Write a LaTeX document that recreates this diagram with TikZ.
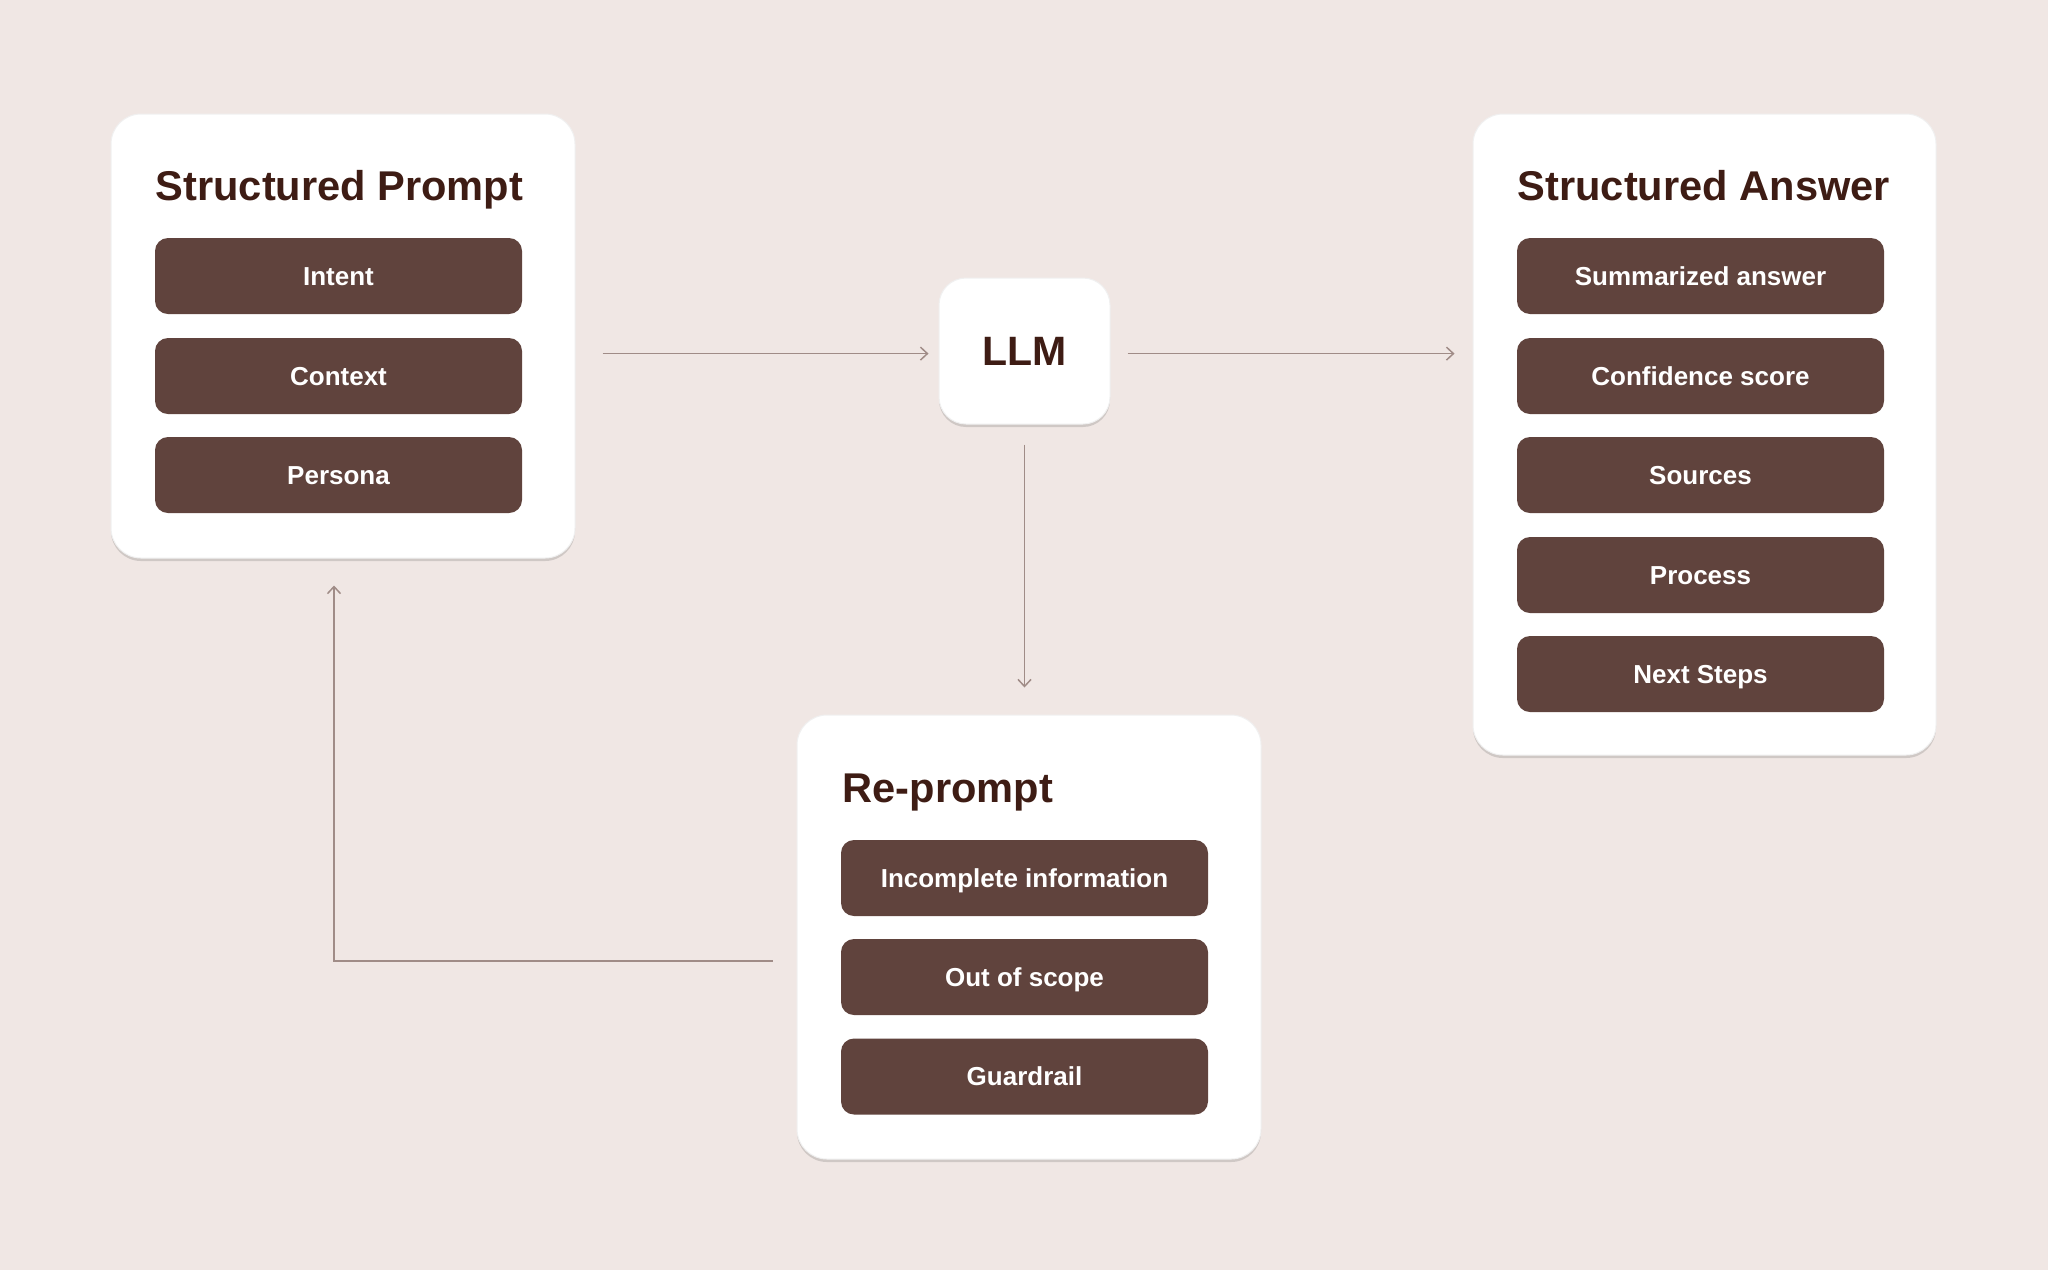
\documentclass[tikz,border=0pt]{standalone}
\usepackage{fontspec}
\setmainfont{Liberation Sans}
\usetikzlibrary{arrows.meta,shadows}

\definecolor{bgpink}{RGB}{240,231,228}
\definecolor{pillbrown}{RGB}{96,67,61}
\definecolor{titlebrown}{RGB}{62,28,20}
\definecolor{linkgrey}{RGB}{160,140,135}

\tikzset{every picture/.style={line width=0.75pt}}
\tikzset{
	card/.style={fill=white, draw=black!6, line width=0.5pt, rounded corners=15pt, inner sep=0pt,
		drop shadow={shadow xshift=0pt, shadow yshift=-1.5pt, opacity=0.2, fill=black!70}},
	pill/.style={fill=pillbrown, rounded corners=6.5pt, minimum width=183.5pt, minimum height=38pt,
		inner sep=0pt, text height=9.3pt, text depth=0pt, text=white, font=\fontsize{13}{15}\selectfont\bfseries},
	cardtitle/.style={anchor=base west, inner sep=0pt, text=titlebrown, font=\fontsize{20.8}{24}\selectfont\bfseries},
	flow/.style={draw=linkgrey, line width=0.75pt, -{Straight Barb[length=3.5pt,width=6.5pt]}}
}

\begin{document}
\begin{tikzpicture}[x=0.5pt,y=0.5pt,yscale=-1,xscale=1]
	%Background
	\fill [bgpink] (0,0) rectangle (2048,1270);
	\useasboundingbox (0,0) rectangle (2048,1270);

	%Rounded Rect: Structured Prompt card
	\node [card, minimum width=232pt, minimum height=222pt] (prompt) at (343,336) {};
	%Rounded Rect: Structured Answer card
	\node [card, minimum width=231.5pt, minimum height=320.5pt] (answer) at (1704.5,434.5) {};
	%Rounded Rect: Re-prompt card
	\node [card, minimum width=232pt, minimum height=222pt] (reprompt) at (1029,937) {};
	%Rounded Rect: LLM
	\node [card, rounded corners=13.5pt, minimum width=85.5pt, minimum height=73pt, text=titlebrown,
		text height=14.7pt, text depth=0pt, font=\fontsize{20.5}{24}\selectfont\bfseries] (llm) at (1024.5,351) {LLM};

	% Text Node
	\node [cardtitle] (promptTitle) at (155,200) {Structured Prompt};
	\node [cardtitle] (answerTitle) at (1517,200) {Structured Answer};
	\node [cardtitle] (repromptTitle) at (842,802) {Re-prompt};

	%Pills of the prompt
	\node [pill] (intent) at (338.5,276) {Intent};
	\node [pill] (context) at (338.5,376) {Context};
	\node [pill] (persona) at (338.5,475) {Persona};

	%Pills of the answer
	\node [pill] (summary) at (1700.5,276) {Summarized answer};
	\node [pill] (confidence) at (1700.5,376) {Confidence score};
	\node [pill] (sources) at (1700.5,475) {Sources};
	\node [pill] (process) at (1700.5,575) {Process};
	\node [pill] (nextsteps) at (1700.5,674) {Next Steps};

	%Pills of the re-prompt
	\node [pill] (incomplete) at (1024.5,878) {Incomplete information};
	\node [pill] (scope) at (1024.5,977) {Out of scope};
	\node [pill] (guardrail) at (1024.5,1076.5) {Guardrail};

	%Connectors
	\coordinate (loop) at (334,961);
	\draw [flow, shorten <=13.5pt, shorten >=5pt] ([yshift=1.3pt]prompt.east |- llm.west) -- ([yshift=1.3pt]llm.west);
	\draw [flow, shorten <=8.5pt, shorten >=9pt] ([yshift=1.3pt]llm.east) -- ([yshift=1.3pt]llm.east -| answer.west);
	\draw [flow, shorten <=10pt, shorten >=13.5pt] (llm.south) -- (llm.south |- reprompt.north);
	\draw [flow, shorten <=12pt, shorten >=13.5pt] (reprompt.west |- loop) -- (loop) -- (loop |- prompt.south);

\end{tikzpicture}
\end{document}
